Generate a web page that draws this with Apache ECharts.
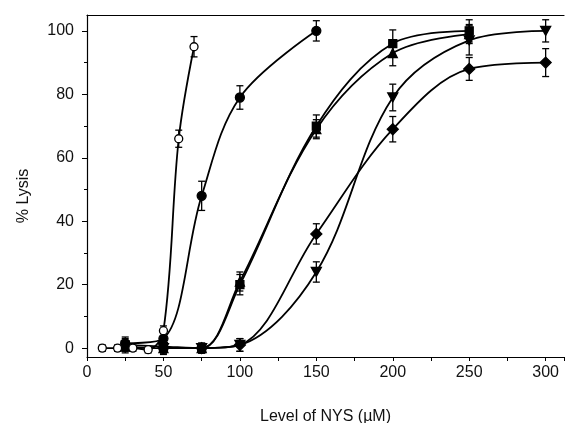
<!DOCTYPE html>
<html><head><meta charset="utf-8">
<script src="https://cdn.jsdelivr.net/npm/echarts@6/dist/echarts.min.js"></script>
<style>html,body{margin:0;padding:0;background:#fff}#c{width:567px;height:423px}</style>
</head><body><div id="c"></div>
<script>
// Data (x in µM, y in % lysis, e = error bar half-length)
const openX = [10, 20, 30, 40, 50, 60, 70];
const openY = [0, 0, 0, -0.5, 5.5, 66, 95];
const openE = [1, 1, 1, 1, 1.5, 2.7, 3.2];

const circX = [25, 50, 75, 100, 150];
const circY = [1.5, 3, 48, 79, 100];
const circE = [2, 2, 4.6, 3.7, 3.2];

const sqX = [25, 50, 75, 100, 150, 200, 250];
const sqY = [1, 0.5, 0, 20, 70, 96, 100];
const sqE = [2, 2, 1.5, 3.2, 3.5, 4.3, 3.5];

const triX = [25, 50, 75, 100, 150, 200, 250];
const triY = [0.5, 0, 0, 21, 69, 93, 99];
const triE = [2, 2, 1.5, 3, 3, 4, 3];

const invX = [50, 75, 100, 150, 200, 250, 300];
const invY = [0, 0, 1, 24, 79, 97, 100];
const invE = [1.5, 1.5, 2, 3.2, 4.2, 4.6, 3.5];

const diaX = [50, 75, 100, 150, 200, 250, 300];
const diaY = [0, 0, 1, 36, 69, 88, 90];
const diaE = [1.5, 1.5, 2, 3.2, 4, 3.6, 4.4];

const xTicks = [0, 50, 100, 150, 200, 250, 300];
const yTicks = [0, 20, 40, 60, 80, 100];
const yMinor = [10, 30, 50, 70, 90];

const FONT = 'Liberation Sans, Arial, sans-serif';
const pairs = (xs, ys) => xs.map((x, i) => [x, ys[i]]);
const errs = (xs, ys, es) => xs.map((x, i) => [x, ys[i] - es[i], ys[i] + es[i]]);

function errSeries(data) {
  return {
    type: 'custom', z: 3, silent: true,
    data: data,
    renderItem: function (params, api) {
      const x = api.value(0);
      const lo = api.coord([x, api.value(1)]);
      const hi = api.coord([x, api.value(2)]);
      const w = 3.5;
      const st = { stroke: '#000', lineWidth: 1.3 };
      return { type: 'group', children: [
        { type: 'line', shape: { x1: lo[0], y1: lo[1], x2: hi[0], y2: hi[1] }, style: st },
        { type: 'line', shape: { x1: lo[0] - w, y1: lo[1], x2: lo[0] + w, y2: lo[1] }, style: st },
        { type: 'line', shape: { x1: hi[0] - w, y1: hi[1], x2: hi[0] + w, y2: hi[1] }, style: st }
      ]};
    }
  };
}
function lineSeries(xs, ys, symbol, size, fill) {
  return {
    type: 'line', data: pairs(xs, ys), smooth: 0.35, z: 4,
    symbol: symbol, symbolSize: size, showAllSymbol: true,
    lineStyle: { color: '#000', width: 1.8 },
    itemStyle: { color: fill, borderColor: '#000', borderWidth: 1.3 },
    emphasis: { disabled: true }
  };
}
const INV = 'path://M0,0 L10,0 L5,9 Z';

const chart = echarts.init(document.getElementById('c'), null, { renderer: 'canvas' });
chart.setOption({
  animation: false,
  backgroundColor: '#fff',
  grid: { left: 87, right: 3, top: 15, bottom: 66, containLabel: false, outerBoundsMode: 'none' },
  graphic: [{
    type: 'text', rotation: Math.PI / 2, x: 24, y: 196,
    style: { text: '% Lysis', fontFamily: FONT, fontSize: 16, fill: '#111',
      textAlign: 'center', textVerticalAlign: 'middle' }
  }],
  xAxis: [{
    type: 'value', min: 0, max: 312, interval: 25,
    name: 'Level of NYS (\u00b5M)', nameLocation: 'middle', nameGap: 52,
    nameTextStyle: { fontFamily: FONT, fontSize: 16, color: '#111' },
    axisLine: { show: true, onZero: false, lineStyle: { color: '#000', width: 1.2 } },
    axisTick: { show: true, inside: false, length: 4, lineStyle: { color: '#000' } },
    axisLabel: { fontFamily: FONT, fontSize: 16, color: '#111', margin: 8,
      formatter: v => (xTicks.indexOf(v) >= 0 ? String(v) : '') },
    splitLine: { show: false }
  }, {
    type: 'value', position: 'top', min: 0, max: 312,
    axisLine: { show: true, onZero: false, lineStyle: { color: '#000', width: 1.2 } },
    axisTick: { show: false }, axisLabel: { show: false }, splitLine: { show: false }
  }],
  yAxis: [{
    type: 'value', min: -2.8, max: 105,
    axisLine: { show: true, onZero: false, lineStyle: { color: '#000', width: 1.2 } },
    axisTick: { show: true, length: 5, customValues: yTicks, lineStyle: { color: '#000' } },
    axisLabel: { fontFamily: FONT, fontSize: 16, color: '#111', margin: 13, customValues: yTicks },
    splitLine: { show: false }
  }, {
    type: 'value', min: -2.8, max: 105, position: 'left',
    axisLine: { show: false, onZero: false },
    axisTick: { show: true, length: 3, customValues: yMinor, lineStyle: { color: '#000' } },
    axisLabel: { show: false }, splitLine: { show: false }
  }],
  series: [
    errSeries(errs(openX, openY, openE)),
    errSeries(errs(circX, circY, circE)),
    errSeries(errs(sqX, sqY, sqE)),
    errSeries(errs(triX, triY, triE)),
    errSeries(errs(invX, invY, invE)),
    errSeries(errs(diaX, diaY, diaE)),
    lineSeries(diaX, diaY, 'diamond', 11, '#000'),
    lineSeries(invX, invY, INV, [10, 9], '#000'),
    lineSeries(triX, triY, 'triangle', 9, '#000'),
    lineSeries(sqX, sqY, 'rect', 8, '#000'),
    lineSeries(circX, circY, 'circle', 9, '#000'),
    lineSeries(openX, openY, 'circle', 8, '#fff')
  ]
});
</script></body></html>
